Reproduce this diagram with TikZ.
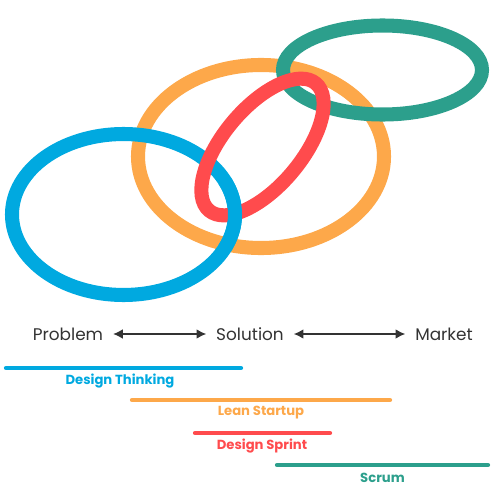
\documentclass[tikz,border=0pt]{standalone}
\usepackage{fontspec}
\setmainfont{Poppins}
\usetikzlibrary{arrows.meta}
\definecolor{cblue}{HTML}{00A9E0}
\definecolor{corange}{HTML}{FDA84A}
\definecolor{cred}{HTML}{FF4B4D}
\definecolor{cgreen}{HTML}{2C9F8C}
\definecolor{ctext}{HTML}{333333}
\tikzset{
  ring/.style={line width=8pt},
  bar/.style={line width=2.4pt, line cap=round},
  barlabel/.style={font=\bfseries\fontsize{7.5}{9}\selectfont, inner sep=0pt},
  stage/.style={font=\fontsize{9.6}{12}\selectfont, text=ctext, inner sep=5.5pt},
  twoway/.style={{Latex[length=5.5pt,width=5.5pt]}-{Latex[length=5.5pt,width=5.5pt]}, line width=0.8pt, draw=ctext}
}
\begin{document}
\begin{tikzpicture}[x=0.02cm,y=0.02cm]
\useasboundingbox (0,0) rectangle (500,-500);
% rings
\draw[ring, corange] (261,-156.5) ellipse [x radius=123, y radius=91.5];
\draw[ring, cblue] (123.5,-214.5) ellipse [x radius=111.5, y radius=80.5];
\draw[ring, cgreen] (382.5,-70) ellipse [x radius=99.5, y radius=44.5];
\draw[ring, cred, rotate around={50:(262.5,-147)}] (262.5,-147) ellipse [x radius=83, y radius=39];
\draw[ring, cblue] (123.5,-214.5) ++(-25:111.5 and 80.5) arc [start angle=-25, end angle=25, x radius=111.5, y radius=80.5];
% stages
\node[stage] (problem) at (68,-334) {Problem};
\node[stage] (solution) at (250,-334) {Solution};
\node[stage] (market) at (444,-334) {Market};
\draw[twoway] (problem) -- (solution);
\draw[twoway] (solution) -- (market);
% bars
\coordinate (dt1) at (6,-368); \coordinate (dt2) at (241,-368);
\coordinate (ls1) at (132,-400); \coordinate (ls2) at (390,-400);
\coordinate (ds1) at (195,-433); \coordinate (ds2) at (330,-433);
\coordinate (sc1) at (277,-465); \coordinate (sc2) at (488,-465);
\draw[bar, cblue] (dt1) -- (dt2);
\draw[bar, corange] (ls1) -- (ls2);
\draw[bar, cred] (ds1) -- (ds2);
\draw[bar, cgreen] (sc1) -- (sc2);
\node[barlabel, text=cblue] (dtl) at (120,-381) {Design Thinking};
\node[barlabel, text=corange] (lsl) at (261,-413) {Lean Startup};
\node[barlabel, text=cred] (dsl) at (262,-446) {Design Sprint};
\node[barlabel, text=cgreen] (scl) at (382.5,-478) {Scrum};
\end{tikzpicture}
\end{document}
